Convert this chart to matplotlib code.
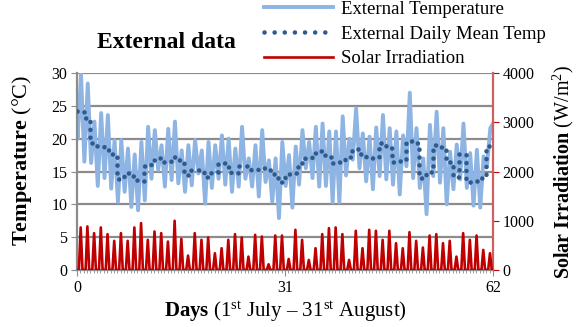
import numpy as np
import matplotlib
matplotlib.use("Agg")
import matplotlib.pyplot as plt
from matplotlib.lines import Line2D

plt.rcParams['font.family'] = ['Liberation Serif', 'DejaVu Serif']
plt.rcParams['mathtext.fontset'] = 'custom'
plt.rcParams['mathtext.rm'] = 'Liberation Serif'
plt.rcParams['mathtext.bf'] = 'Liberation Serif:bold'
plt.rcParams['mathtext.it'] = 'Liberation Serif:italic'

# ---- data ----
days = np.arange(62)
temp_low = [20.0, 16.5, 16.3, 12.8, 14.0, 12.4, 10.4, 11.9, 9.6, 9.1,
            10.6, 13.9, 15.2, 12.7, 13.7, 13.2, 11.9, 12.9, 14.7, 10.1,
            12.5, 13.9, 13.0, 11.9, 12.7, 13.9, 12.7, 11.2, 13.4, 10.4,
            7.9, 12.8, 9.5, 13.0, 15.5, 14.0, 12.7, 12.8, 10.3, 10.3,
            14.4, 16.8, 15.5, 13.5, 12.3, 14.3, 13.8, 13.0, 11.5, 15.8,
            14.0, 12.5, 8.5, 14.3, 13.3, 10.0, 12.3, 13.8, 12.5, 9.8,
            9.5, 15.8]
temp_high = [29.8, 28.4, 22.6, 23.9, 23.6, 19.8, 19.8, 18.5, 17.6, 19.5,
             21.8, 21.3, 19.0, 21.5, 22.6, 18.2, 19.0, 19.8, 18.2, 19.5,
             19.0, 20.5, 20.0, 18.5, 21.8, 17.0, 19.0, 21.3, 16.7, 17.0,
             19.5, 17.5, 18.8, 21.3, 19.5, 21.8, 22.3, 21.1, 21.1, 23.4,
             20.0, 24.6, 20.8, 20.3, 21.7, 23.6, 21.6, 21.1, 20.5, 27.0,
             21.6, 17.0, 22.1, 24.1, 21.6, 18.0, 19.1, 22.3, 17.8, 18.3,
             17.3, 21.6]
temp_start = 21.5
temp_end = 22.3
daily_mean = [24.2, 23.1, 19.4, 18.9, 18.3, 17.7, 13.9, 14.7, 14.3, 13.6,
              15.8, 16.7, 17.0, 16.4, 17.2, 16.8, 14.5, 15.3, 15.2, 14.2,
              15.0, 16.3, 15.7, 14.8, 15.9, 15.9, 15.3, 15.5, 15.3, 14.6,
              13.4, 14.6, 14.7, 16.3, 17.0, 17.8, 18.1, 17.2, 16.3, 16.5,
              17.2, 18.4, 17.6, 17.2, 17.1, 19.3, 18.6, 16.5, 16.6, 19.7,
              19.3, 14.0, 15.0, 19.0, 18.8, 16.5, 14.2, 17.6, 13.4, 13.5,
              14.0, 18.9]
solar_peak = [864, 884, 748, 864, 728, 592, 748, 592, 864, 952,
              612, 782, 748, 578, 1000, 632, 292, 748, 612, 660,
              340, 442, 612, 728, 660, 272, 714, 680, 116, 700,
              700, 224, 816, 612, 204, 442, 728, 850, 864, 728,
              204, 796, 442, 816, 796, 612, 796, 544, 442, 768,
              592, 456, 700, 728, 544, 592, 272, 748, 612, 700,
              408, 340]
x_ticks = [0, 31, 62]
temp_ticks = [0, 5, 10, 15, 20, 25, 30]
solar_ticks = [0, 1000, 2000, 3000, 4000]

# ---- build series ----
t_x = [0.0]
t_y = [temp_start]
for d, lo, hi in zip(days, temp_low, temp_high):
    t_x += [d + 0.1, d + 0.6]
    t_y += [lo, hi]
t_x.append(62.0)
t_y.append(temp_end)

m_x = np.arange(63)
m_y = list(daily_mean) + [daily_mean[-1]]

s_x, s_y = [0.0], [0.0]
for d, p in zip(days, solar_peak):
    s_x += [d + 0.28, d + 0.55, d + 0.82]
    s_y += [0.0, p, 0.0]
s_x.append(62.0)
s_y.append(0.0)

# ---- figure ----
W, H = 577, 327
fig = plt.figure(figsize=(W / 100, H / 100), dpi=100)
L, R, T, B = 77, 493, 73, 270
ax = fig.add_axes([L / W, 1 - B / H, (R - L) / W, (B - T) / H])
ax2 = ax.twinx()

TEMP_C = '#8DB4E2'
MEAN_C = '#2F5A8E'
SOLAR_C = '#C00000'
GRID_C = '#8C8C8C'
DOTS = (0, (0.01, 1.7))

ax.set_xlim(0, 62)
ax.set_ylim(0, 30)
ax2.set_ylim(0, 4000)

for v in temp_ticks:
    ax.axhline(v, color=GRID_C, lw=1.6, zorder=0)

ax.plot(t_x, t_y, color=TEMP_C, lw=2.8, solid_joinstyle='round', zorder=2)
ax.plot(m_x, m_y, color=MEAN_C, lw=3.3, linestyle=DOTS,
        dash_capstyle='round', drawstyle='steps-post', zorder=3)
ax2.plot(s_x, s_y, color=SOLAR_C, lw=1.9, zorder=4)

ax.set_xticks(x_ticks)
ax.set_xticks(np.arange(0, 62.01, 0.5), minor=True)
ax.set_yticks(temp_ticks)
ax2.set_yticks(solar_ticks)

ax.tick_params(axis='x', which='major', length=4, color=GRID_C, labelsize=11.5, pad=3)
ax.tick_params(axis='x', which='minor', length=2, color=GRID_C)
ax.tick_params(axis='y', length=4, color=GRID_C, labelsize=11.5, pad=3)
ax2.tick_params(axis='y', length=4, color=SOLAR_C, labelsize=11.5, pad=3)

for s in ['top', 'right']:
    ax.spines[s].set_visible(False)
ax.spines['left'].set_color(GRID_C)
ax.spines['left'].set_linewidth(1.6)
ax.spines['bottom'].set_color(GRID_C)
ax.spines['bottom'].set_linewidth(1.6)
for s in ['top', 'left', 'bottom']:
    ax2.spines[s].set_visible(False)
ax2.spines['right'].set_color('#D06060')
ax2.spines['right'].set_linewidth(1.6)

# labels
fig.text(22 / W, 1 - 160 / H, r'$\mathbf{Temperature}$ (°C)', rotation=90,
         ha='center', va='center', fontsize=16)
fig.text(563 / W, 1 - 172 / H, r'$\mathbf{Solar\ Irradiation}$ (W/m$^{2}$)',
         rotation=90, ha='center', va='center', fontsize=14.5)
fig.text(285 / W, 1 - 312 / H,
         r'$\mathbf{Days}$ (1$^{\mathrm{st}}$ July – 31$^{\mathrm{st}}$ August)',
         ha='center', va='center', fontsize=15)
fig.text(166 / W, 1 - 42 / H, 'External data', fontweight='bold',
         ha='center', va='center', fontsize=17)

handles = [
    Line2D([], [], color=TEMP_C, lw=2.8),
    Line2D([], [], color=MEAN_C, lw=3.3, linestyle=(0, (0.01, 2.2)),
           dash_capstyle='round'),
    Line2D([], [], color=SOLAR_C, lw=1.9),
]
labels = ['External Temperature', 'External Daily Mean Temp', 'Solar Irradiation']
fig.legend(handles, labels, loc='upper left', bbox_to_anchor=(262 / W, 1 + 1 / H),
           frameon=False, fontsize=13.5, handlelength=3.7, handletextpad=0.4,
           labelspacing=0.4, borderpad=0.1, borderaxespad=0)

fig.savefig('out.png', dpi=100)
